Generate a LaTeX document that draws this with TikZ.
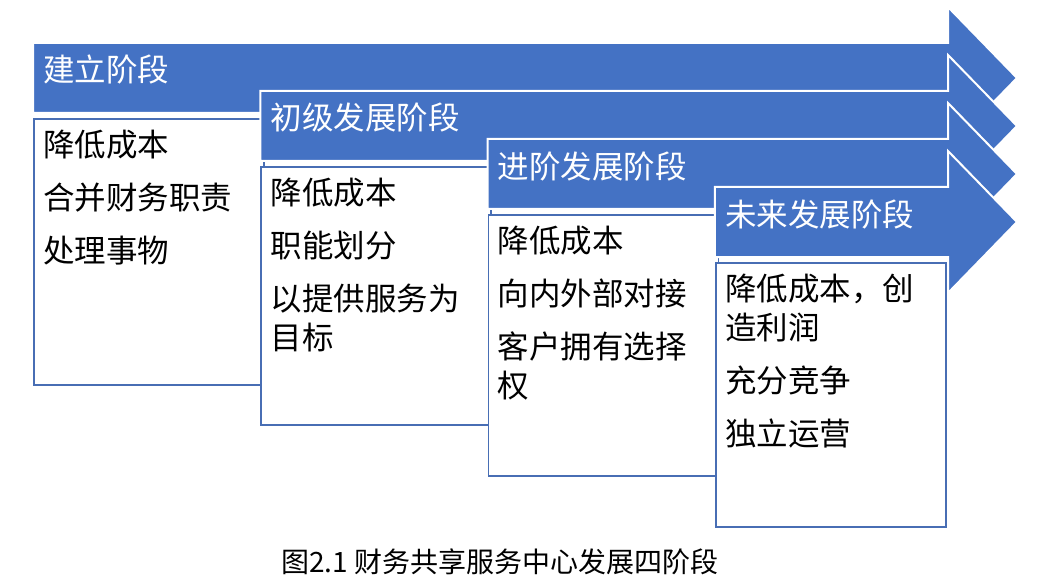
\documentclass[tikz,border=0pt]{standalone}
\usepackage{fontspec}
\setmainfont{Noto Sans CJK SC}
\usepackage{tikz}
\definecolor{stageblue}{RGB}{68,114,196}
\definecolor{boxline}{RGB}{72,110,180}

\begin{document}
\begin{tikzpicture}[x=1pt, y=-1pt,
  stagearrow/.style={fill=stageblue, draw=white, line width=2pt, line join=miter},
  stagebox/.style={draw=boxline, fill=white, line width=1.6pt, minimum width=230pt, anchor=north west, inner sep=0pt},
  stagetitle/.style={text=white, anchor=west, inner sep=0pt, font=\fontsize{31.5}{38}\selectfont},
  stagetext/.style={anchor=north west, inner sep=0pt, align=left, font=\fontsize{31.5}{39}\selectfont}]
  \useasboundingbox (0,0) rectangle (1051,585);
  \foreach \i/\h/\stage/\items in {
    0/266/建立阶段/{降低成本\\[14pt]合并财务职责\\[14pt]处理事物},
    1/258/初级发展阶段/{降低成本\\[14pt]职能划分\\[14pt]以提供服务为\\目标},
    2/261/进阶发展阶段/{降低成本\\[14pt]向内外部对接\\[14pt]客户拥有选择\\权},
    3/264/未来发展阶段/{降低成本，创\\造利润\\[14pt]充分竞争\\[14pt]独立运营}}{
    \pgfmathsetmacro{\xa}{33+227.3*\i}
    \pgfmathsetmacro{\ya}{43+48*\i}
    \filldraw[stagearrow] (\xa,\ya) -- (948,\ya) -- (948,\ya-36) -- (1017,\ya+35)
      -- (948,\ya+106) -- (948,\ya+70) -- (\xa,\ya+70) -- cycle;
    \node[stagetitle] (title\i) at (\xa+10,\ya+27) {\stage};
    \node[stagebox, minimum height=\h pt] (box\i) at (\xa,\ya+75) {};
    \node[stagetext] (text\i) at ([xshift=10pt,yshift=-12pt]box\i.north west) {\items};
  }
  \node[font=\fontsize{28}{28}\selectfont] (caption) at (500,562) {图2.1 财务共享服务中心发展四阶段};
\end{tikzpicture}
\end{document}
